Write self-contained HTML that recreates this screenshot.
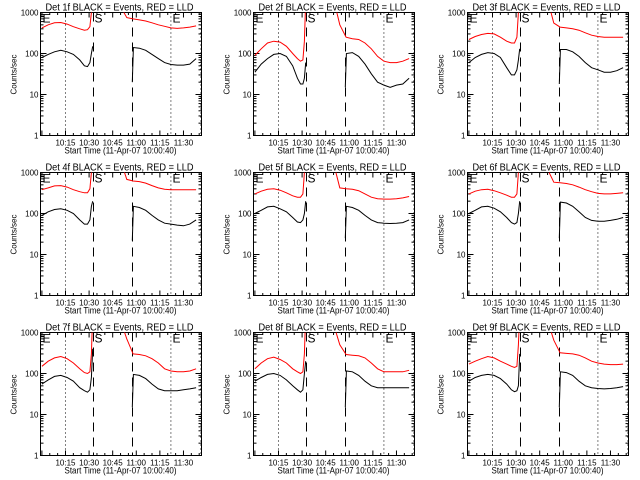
<!DOCTYPE html>
<html><head><meta charset="utf-8"><style>
html,body{margin:0;padding:0;background:#fff;}
svg{display:block;font-family:"Liberation Sans",sans-serif;}
</style></head><body>
<svg id="chart" width="640" height="480" viewBox="0 0 640 480"></svg>
<script>
const detectors = ['1f','2f','3f','4f','5f','6f','7f','8f','9f'];
const timeSeg1 = [0,4,8,12,16,20,24,27,29,30.5,31.5,32.3];
const timeSeg2 = [57.5,58.2,62,66,70,74,78,82,86,90,94,98];
const timeRed2 = [48,51,54,58,62,66,70,74,78,82,86,90,94,98];
const xTickMinutes = [15,30,45,60,75,90];
const xTickLabels = ['10:15','10:30','10:45','11:00','11:15','11:30'];
const yTickValues = [1,10,100,1000];
const yTickLabels = ['1','10','100','1000'];
const dottedMinutes = [15,82,101];
const dashedMinutes = [32.8,57.6];
const black1 = [
 [80,95,110,120,110,95,70,50,48,60,100,150],
 [35,55,75,95,100,85,50,25,18,18,25,60],
 [60,80,95,105,100,80,45,30,30,40,70,130],
 [90,110,125,130,120,100,70,55,55,70,150,200],
 [100,120,145,150,130,110,80,62,60,70,100,200],
 [100,120,145,150,135,110,80,60,55,60,100,200],
 [55,70,85,90,80,65,45,38,35,40,80,400],
 [65,80,95,100,90,70,50,40,35,40,100,200],
 [65,80,90,95,90,75,55,40,36,38,50,300]];
const black2 = [
 [20,140,135,120,95,75,60,54,52,52,55,75],
 [15,100,105,85,55,32,20,17,15,17,18,25],
 [18,125,125,110,85,60,45,40,35,35,38,45],
 [22,150,140,120,90,70,58,55,52,50,55,70],
 [25,150,140,120,90,70,60,58,57,58,60,70],
 [25,190,180,150,110,80,68,65,65,68,72,80],
 [15,95,90,75,55,42,38,38,38,40,42,45],
 [15,115,110,90,65,50,45,45,45,45,45,45],
 [15,110,105,90,65,50,45,43,42,43,45,48]];
const red1 = [
 [420,500,560,570,520,450,400,370,380,450,1000,3000],
 [90,130,180,200,190,150,100,75,65,70,200,2000],
 [220,260,290,310,300,250,200,180,180,250,1000,3000],
 [380,420,470,480,440,380,340,320,320,400,1000,3000],
 [300,350,390,400,370,320,270,250,250,300,1000,3000],
 [300,350,380,390,360,320,280,250,250,300,1000,3000],
 [150,200,240,260,230,180,130,105,100,110,300,3000],
 [130,180,230,250,220,180,130,110,100,110,300,3000],
 [170,200,230,260,240,200,170,150,140,150,500,3000]];
const red2 = [
 [3000,1200,750,700,660,620,560,500,460,420,410,420,440,470],
 [3000,1500,500,250,230,220,180,130,85,65,60,60,65,75],
 [3000,1500,550,440,420,400,370,320,280,260,250,250,250,250],
 [3000,1500,680,620,600,550,480,420,390,380,380,380,380,380],
 [3000,1200,420,400,390,360,300,250,230,225,225,230,240,260],
 [3000,1000,580,560,540,500,440,380,340,310,300,300,310,320],
 [3000,1500,700,300,290,270,230,180,130,115,110,110,115,130],
 [3000,1200,500,290,280,270,240,180,130,110,110,110,110,120],
 [3000,1500,650,320,310,300,280,240,200,180,170,165,165,170]];

const NS='http://www.w3.org/2000/svg';
const svg=document.getElementById('chart');
function mk(tag,attrs,parent){const e=document.createElementNS(NS,tag);for(const k in attrs)e.setAttribute(k,attrs[k]);(parent||svg).appendChild(e);return e;}
const L=40,R=201,T=12,B=135;
const xS=m=>41.4+m*1.573;
const yS=v=>B-Math.log10(v)*41;

detectors.forEach((det,i)=>{
  const ox=Math.round((i%3)*213.33), oy=Math.floor(i/3)*160;
  const g=mk('g',{transform:`translate(${ox+0.5},${oy+0.5})`});
  
  
  const defs=mk('clipPath',{id:'c'+i},g);mk('rect',{x:L,y:T,width:R-L,height:B-T},defs);
  const title=mk('text',{x:45,y:10,'font-size':10,textLength:148,lengthAdjust:'spacingAndGlyphs'},g);
  title.textContent='Det '+det+' BLACK = Events, RED = LLD';
  
  
  const fr=mk('rect',{x:L,y:T,width:R-L,height:B-T,fill:'none',stroke:'#000','stroke-width':1},g);
  
  
  yTickValues.forEach((v,k)=>{
    const y=yS(v);
    mk('line',{x1:L,x2:L+6,y1:y,y2:y,stroke:'#000'},g);
    mk('line',{x1:R-6,x2:R,y1:y,y2:y,stroke:'#000'},g);
    const t=mk('text',{x:L-2,y:y+3,'font-size':8,'text-anchor':'end'},g);
    t.textContent=yTickLabels[k];
    
    
    if(v<1000){for(let d=2;d<10;d++){const yy=yS(v*d);mk('line',{x1:L,x2:L+3,y1:yy,y2:yy,stroke:'#000'},g);mk('line',{x1:R-3,x2:R,y1:yy,y2:yy,stroke:'#000'},g);}}
  });
  for(let m=0;m<=100;m+=5){const x=xS(m);if(x<=L||x>=R)continue;const len=(m%15===0)?5:2.5;
    mk('line',{x1:x,x2:x,y1:B,y2:B-len,stroke:'#000'},g);mk('line',{x1:x,x2:x,y1:T,y2:T+len,stroke:'#000'},g);}
  xTickMinutes.forEach((m,k)=>{
    const t=mk('text',{x:xS(m),y:145,'font-size':8,'text-anchor':'middle'},g);
    t.textContent=xTickLabels[k];
    
    
  });
  const xl=mk('text',{x:64,y:153,'font-size':9,textLength:112,lengthAdjust:'spacingAndGlyphs'},g);
  xl.textContent='Start Time (11-Apr-07 10:00:40)';
  
  
  const yl=mk('text',{x:0,y:0,'font-size':8,'text-anchor':'middle',transform:'translate(16,74) rotate(-90)'},g);
  yl.textContent='Counts/sec';
  
  
  dottedMinutes.forEach(m=>{const l=mk('line',{x1:xS(m),x2:xS(m),y1:T,y2:B,stroke:'#000','stroke-dasharray':'1,3'},g);
    
    });
  dashedMinutes.forEach(m=>{const l=mk('line',{x1:xS(m),x2:xS(m),y1:T,y2:B,stroke:'#000','stroke-dasharray':'9,6'},g);
    
    });
  [['E',42],['S',94],['E',172]].forEach(([s,x])=>{const t=mk('text',{x:x,y:22,'font-size':12},g);t.textContent=s;
    
    });
  const cg=mk('g',{'clip-path':`url(#c${i})`},g);
  const series=[[timeSeg1,red1[i],'#f00','red-lld-before'],[timeRed2,red2[i],'#f00','red-lld-after'],
                [timeSeg1,black1[i],'#000','black-events-before'],[timeSeg2,black2[i],'#000','black-events-after']];
  series.forEach(([ts,vs,c,name])=>{
    const pts=ts.map((m,k)=>xS(m).toFixed(1)+','+yS(vs[k]).toFixed(1)).join(' ');
    const p=mk('polyline',{points:pts,fill:'none',stroke:c,'stroke-width':1},cg);
    
    
  });
});
</script>
</body></html>
